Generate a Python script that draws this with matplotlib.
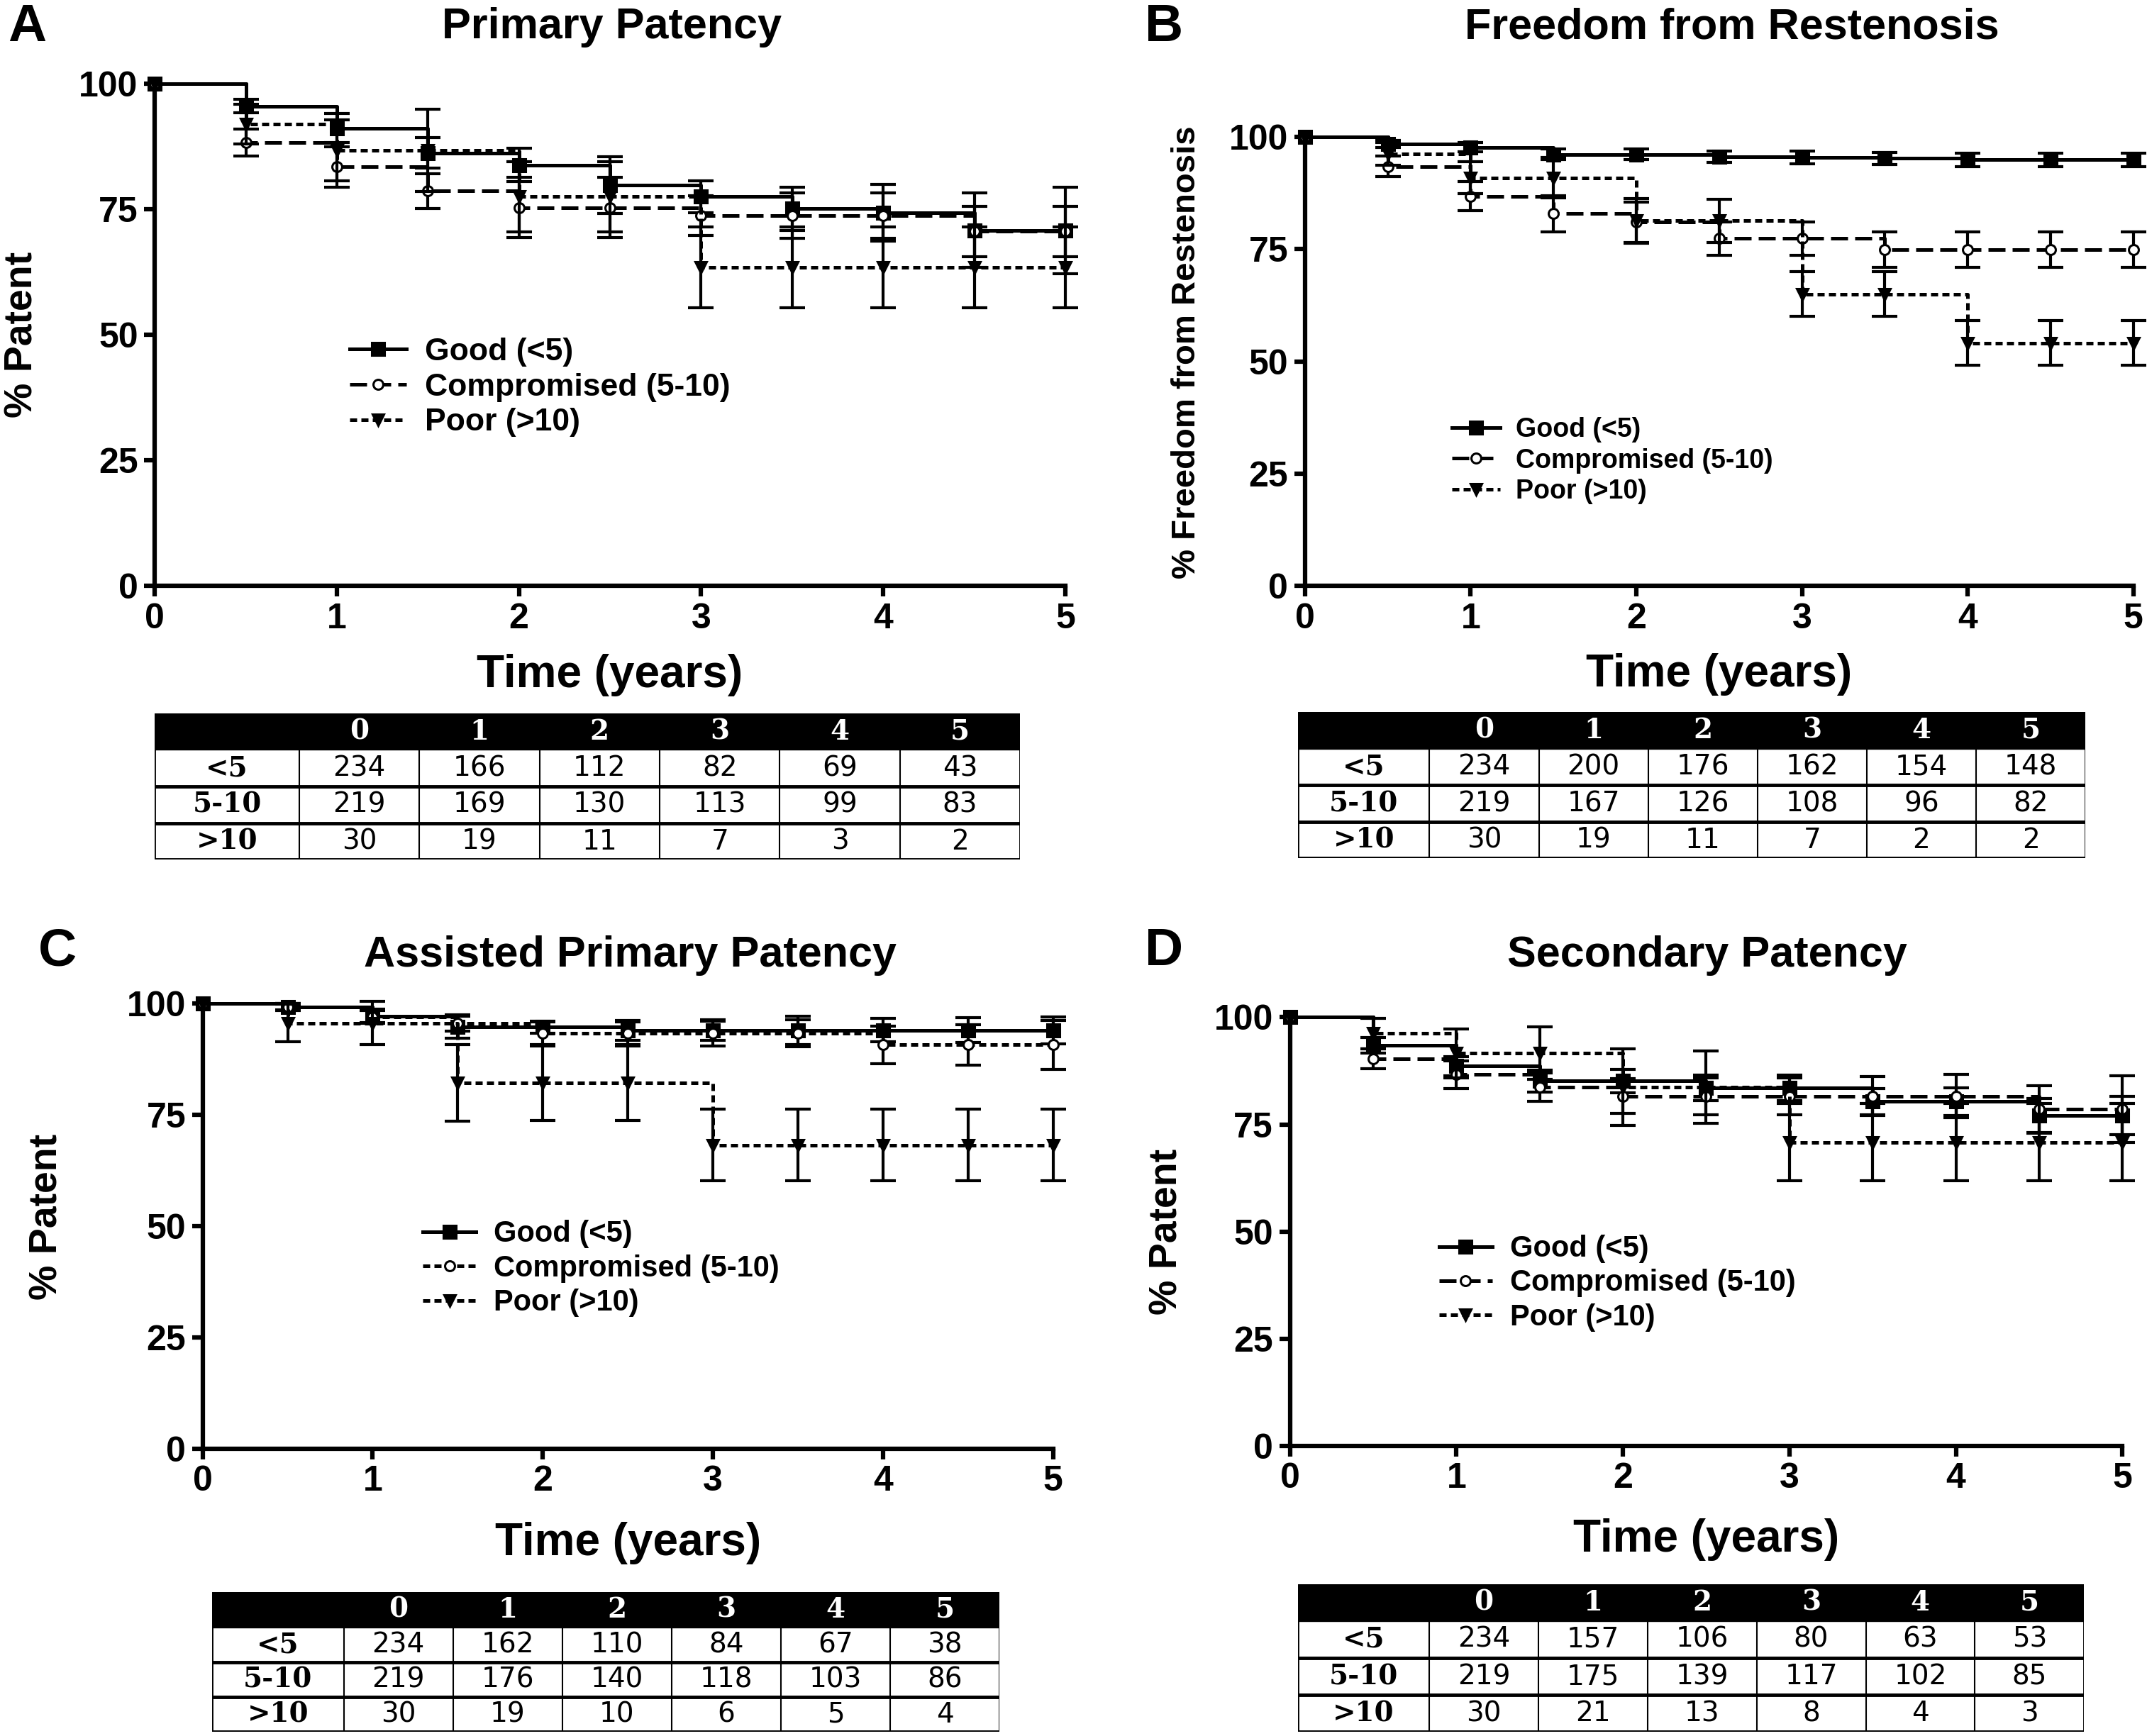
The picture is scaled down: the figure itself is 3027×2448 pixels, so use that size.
import matplotlib
matplotlib.use("Agg")
from matplotlib import pyplot as plt
from matplotlib.patches import Rectangle

plt.rcParams['font.family'] = ['Liberation Sans', 'DejaVu Sans']
plt.rcParams['font.weight'] = 'bold'
plt.rcParams['axes.labelweight'] = 'bold'

# time points (years)
times = [0, 0.5, 1, 1.5, 2, 2.5, 3, 3.5, 4, 4.5, 5]
labels = ["Good (<5)", "Compromised (5-10)", "Poor (>10)"]

# Panel A - primary patency
a_good = [100, 95.5, 91.1, 86.2, 83.8, 79.8, 77.5, 75.1, 74.3, 70.8, 70.8]
a_good_err = [0, 1.3, 2.9, 3.0, 3.3, 5.6, 3.2, 4.3, 5.6, 7.4, 8.6]
a_comp = [100, 88.3, 83.4, 78.6, 75.3, 75.3, 73.7, 73.7, 73.7, 70.6, 70.6]
a_comp_err = [0, 2.7, 4.0, 3.5, 6.0, 6.0, 4.0, 4.5, 4.5, 5.0, 5.0]
a_poor = [100, 91.9, 86.7, 86.7, 77.5, 77.5, 63.4, 63.4, 63.4, 63.4, 63.4]
a_poor_err = [0, 4.0, 6.0, 8.2, 7.0, 7.0, 8.0, 8.0, 8.0, 8.0, 8.0]

# Panel B - freedom from restenosis
b_good = [100, 98.4, 97.7, 96.1, 96.1, 95.6, 95.4, 95.2, 94.9, 94.9, 94.9]
b_good_err = [0, 0.8, 1.0, 1.2, 1.2, 1.3, 1.4, 1.4, 1.5, 1.5, 1.5]
b_comp = [100, 93.4, 86.8, 82.9, 81.0, 77.4, 77.4, 74.9, 74.9, 74.9, 74.9]
b_comp_err = [0, 2.3, 3.2, 4.0, 4.5, 3.7, 3.7, 3.9, 3.9, 3.9, 3.9]
b_poor = [100, 96.2, 90.9, 90.9, 81.3, 81.3, 65.0, 65.0, 54.1, 54.1, 54.1]
b_poor_err = [0, 2.5, 3.6, 4.5, 5.0, 4.8, 5.0, 5.0, 5.0, 5.0, 5.0]

# Panel C - assisted primary patency
c_good = [100, 99.3, 97.2, 94.7, 94.7, 94.0, 94.0, 94.0, 94.0, 94.0, 94.0]
c_good_err = [0, 0.7, 1.5, 2.5, 1.3, 2.2, 2.3, 3.2, 2.6, 2.8, 3.0]
c_comp = [100, 99.3, 97.0, 95.6, 93.3, 93.3, 93.3, 93.3, 90.7, 90.7, 90.7]
c_comp_err = [0, 0.8, 1.5, 1.8, 2.5, 2.6, 2.8, 3.0, 4.3, 4.5, 5.5]
c_poor = [100, 95.6, 95.6, 82.1, 82.1, 82.1, 68.2, 68.2, 68.2, 68.2, 68.2]
c_poor_err = [0, 4.2, 4.9, 8.6, 8.4, 8.4, 8.1, 8.1, 8.1, 8.1, 8.1]

# Panel D - secondary patency
d_good = [100, 93.4, 88.6, 85.1, 85.1, 83.5, 83.5, 80.3, 80.3, 77.1, 77.1]
d_good_err = [0, 1.8, 2.2, 2.6, 2.8, 3.0, 3.0, 3.0, 3.3, 4.0, 4.5]
d_comp = [100, 90.3, 86.6, 83.7, 81.6, 81.6, 81.6, 81.6, 81.6, 78.5, 78.5]
d_comp_err = [0, 2.3, 3.2, 3.3, 4.0, 4.3, 4.3, 4.5, 5.0, 5.5, 7.8]
d_poor = [100, 96.2, 91.6, 91.6, 83.7, 83.7, 70.8, 70.8, 70.8, 70.8, 70.8]
d_poor_err = [0, 3.6, 5.7, 6.1, 9.0, 8.5, 9.0, 9.0, 9.0, 9.0, 9.0]

# numbers at risk
risk_years = ["0", "1", "2", "3", "4", "5"]
risk_groups = ["<5", "5-10", ">10"]
a_risk = [[234, 166, 112, 82, 69, 43], [219, 169, 130, 113, 99, 83], [30, 19, 11, 7, 3, 2]]
b_risk = [[234, 200, 176, 162, 154, 148], [219, 167, 126, 108, 96, 82], [30, 19, 11, 7, 2, 2]]
c_risk = [[234, 162, 110, 84, 67, 38], [219, 176, 140, 118, 103, 86], [30, 19, 10, 6, 5, 4]]
d_risk = [[234, 157, 106, 80, 63, 53], [219, 175, 139, 117, 102, 85], [30, 21, 13, 8, 4, 3]]

W, H = 1568.0, 1268.0
LONG = (4.8, 2.0)
SHORT = (2.0, 1.2)


def fig_rect(x0, y0, x1, y1):
    return [x0 / W, 1 - y1 / H, (x1 - x0) / W, (y1 - y0) / H]


def draw_curve(ax, y, err, dashes, marker, face, ms):
    line, = ax.step(times, y, where='post', color='k', lw=3.6, clip_on=False)
    if dashes:
        line.set_dashes(dashes)
    ax.errorbar(times[1:], y[1:], yerr=err[1:], fmt='none', ecolor='k',
                elinewidth=3, capsize=13, capthick=3, clip_on=False)
    ax.plot(times, y, ls='none', marker=marker, ms=ms, mfc=face, mec='k',
            mew=2.2, clip_on=False)
    # legend proxy
    h, = ax.plot([], [], color='k', lw=3.6, marker=marker, ms=ms, mfc=face,
                 mec='k', mew=2.2)
    if dashes:
        h.set_dashes(dashes)
    return h


def make_panel(rect, series, ylabel, ycoord, xlab_y, leg_pos, leg_fs, ylab_fs):
    ax = fig.add_axes(rect)
    handles = []
    styles = [(None, 's', 'k', 13), (series[3], 'o', 'white', 10),
              (SHORT, 'v', 'k', 12)]
    for (y, err), (dsh, mk, fc, ms) in zip(series[:3], styles):
        handles.append(draw_curve(ax, y, err, dsh, mk, fc, ms))
    ax.set_xlim(0, 5)
    ax.set_ylim(0, 100)
    ax.set_xticks([0, 1, 2, 3, 4, 5])
    ax.set_yticks([0, 25, 50, 75, 100])
    for s in ['top', 'right']:
        ax.spines[s].set_visible(False)
    for s in ['left', 'bottom']:
        ax.spines[s].set_linewidth(4.5)
    ax.tick_params(width=4.5, length=11, labelsize=36, pad=6)
    ax.set_xlabel("Time (years)", fontsize=46, fontweight='bold')
    ax.xaxis.set_label_coords(0.5, xlab_y)
    ax.set_ylabel(ylabel, fontsize=ylab_fs, fontweight='bold')
    ax.yaxis.set_label_coords(*ycoord)
    ax.legend(handles, labels, loc='upper left', bbox_to_anchor=leg_pos,
              frameon=False, fontsize=leg_fs, handlelength=1.8,
              labelspacing=0.2, handletextpad=0.6, borderaxespad=0)
    return ax


def make_table(rect, data):
    ax = fig.add_axes(rect)
    ax.set_xlim(0, 1)
    ax.set_ylim(0, 4)
    ax.axis('off')
    first = 0.167
    step = (1 - first) / 6
    edges = [0] + [first + i * step for i in range(7)]
    ax.add_patch(Rectangle((0, 3), 1, 1, color='k'))
    for i, yr in enumerate(risk_years):
        ax.text((edges[i + 1] + edges[i + 2]) / 2, 3.5, yr, color='white',
                ha='center', va='center', fontsize=28, fontweight='bold',
                family='DejaVu Serif')
    for r, (grp, row) in enumerate(zip(risk_groups, data)):
        yc = 2.5 - r
        ax.text(edges[1] / 2, yc, grp, ha='center', va='center',
                fontsize=28, fontweight='bold', family='DejaVu Serif')
        for i, v in enumerate(row):
            ax.text((edges[i + 1] + edges[i + 2]) / 2, yc, str(v),
                    ha='center', va='center', fontsize=28,
                    fontweight='normal', family='DejaVu Sans')
    for x in edges[1:-1]:
        ax.plot([x, x], [0, 3], color='k', lw=1.5)
    ax.plot([0, 0], [0, 3], color='k', lw=2)
    ax.plot([1, 1], [0, 3], color='k', lw=2)
    for yv in [0, 1, 2]:
        ax.plot([0, 1], [yv, yv], color='k', lw=3.5)


fig = plt.figure(figsize=(30.27, 24.48), dpi=100)

make_panel(fig_rect(113, 61, 778, 428),
           [(a_good, a_good_err), (a_comp, a_comp_err), (a_poor, a_poor_err), LONG],
           "% Patent", (-0.125, 0.5), -0.135, (0.2, 0.52), 32, 40)
make_panel(fig_rect(953, 100, 1558, 428),
           [(b_good, b_good_err), (b_comp, b_comp_err), (b_poor, b_poor_err), LONG],
           "% Freedom from Restenosis", (-0.124, 0.52), -0.15, (0.165, 0.40), 27, 34)
make_panel(fig_rect(148, 733, 769, 1058),
           [(c_good, c_good_err), (c_comp, c_comp_err), (c_poor, c_poor_err), SHORT],
           "% Patent", (-0.161, 0.52), -0.165, (0.245, 0.54), 30, 40)
make_panel(fig_rect(942, 743, 1550, 1056),
           [(d_good, d_good_err), (d_comp, d_comp_err), (d_poor, d_poor_err), LONG],
           "% Patent", (-0.125, 0.5), -0.17, (0.165, 0.52), 30, 40)

make_table(fig_rect(113, 521, 745, 628), a_risk)
make_table(fig_rect(948, 520, 1523, 627), b_risk)
make_table(fig_rect(155, 1163, 730, 1265), c_risk)
make_table(fig_rect(948, 1157, 1522, 1265), d_risk)

titles = ["Primary Patency", "Freedom from Restenosis",
          "Assisted Primary Patency", "Secondary Patency"]
title_pos = [(447, 20), (1265, 20), (460, 698), (1247, 698)]
letters = ["A", "B", "C", "D"]
letter_pos = [(20, 20), (850, 20), (42, 695), (850, 695)]
for t, (x, y) in zip(titles, title_pos):
    fig.text(x / W, 1 - y / H, t, ha='center', va='center', fontsize=44,
             fontweight='bold')
for t, (x, y) in zip(letters, letter_pos):
    fig.text(x / W, 1 - y / H, t, ha='center', va='center', fontsize=54,
             fontweight='bold')

fig.savefig("out.png", dpi=100)
